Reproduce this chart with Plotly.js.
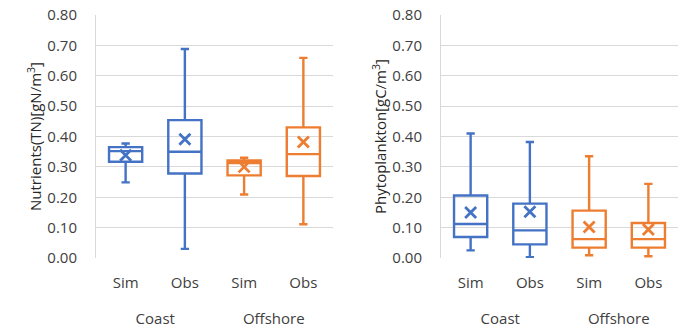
<!DOCTYPE html>
<html>
<head>
<meta charset="utf-8">
<script src="https://cdn.plot.ly/plotly-3.0.1.min.js"></script>
<style>html,body{margin:0;padding:0;background:#fff;}#chart{width:689px;height:329px;}</style>
</head>
<body>
<div id="chart"></div>
<script>
// Categories
const groups = ["Coast", "Offshore"];
const kinds = ["Sim", "Obs"];
const seriesColors = ["#4472C4", "#ED7D31"];

// Nutrients (TN) [gN/m3] — per group, per kind (Sim, Obs)
const tnLower  = [[0.249, 0.030], [0.209, 0.111]];
const tnQ1     = [[0.317, 0.278], [0.272, 0.270]];
const tnMedian = [[0.352, 0.350], [0.313, 0.342]];
const tnQ3     = [[0.365, 0.454], [0.321, 0.430]];
const tnUpper  = [[0.377, 0.688], [0.330, 0.659]];
const tnMean   = [[0.338, 0.391], [0.300, 0.382]];

// Phytoplankton [gC/m3]
const phLower  = [[0.025, 0.003], [0.009, 0.006]];
const phQ1     = [[0.069, 0.045], [0.034, 0.034]];
const phMedian = [[0.112, 0.091], [0.062, 0.062]];
const phQ3     = [[0.206, 0.179], [0.156, 0.115]];
const phUpper  = [[0.410, 0.382], [0.335, 0.244]];
const phMean   = [[0.150, 0.152], [0.102, 0.094]];

// Axis ticks
const yTickVals = [0, 0.1, 0.2, 0.3, 0.4, 0.5, 0.6, 0.7, 0.8];
const yTickText = ["0.00", "0.10", "0.20", "0.30", "0.40", "0.50", "0.60", "0.70", "0.80"];

const FONT = "Open Sans, Noto Sans, sans-serif";
const traces = [];

// slot index of (group, kind) on the x axis
const slot = (gi, ki) => gi * kinds.length + ki;
const kindSlots = [];
const kindLabels = [];
groups.forEach((g, gi) => kinds.forEach((k, ki) => { kindSlots.push(slot(gi, ki)); kindLabels.push(k); }));
const groupSlots = groups.map((g, gi) => slot(gi, 0) + (kinds.length - 1) / 2);

function addPanel(xa, ya, xg, lower, q1, med, q3, upper, mean) {
  groups.forEach((g, gi) => {
    const xs = kinds.map((k, ki) => slot(gi, ki));
    traces.push({
      type: "box", xaxis: xa, yaxis: ya, name: g, showlegend: false,
      x: xs,
      lowerfence: lower[gi], q1: q1[gi], median: med[gi], q3: q3[gi], upperfence: upper[gi],
      boxpoints: false,
      width: 0.56,
      whiskerwidth: 0.25,
      fillcolor: "rgba(255,255,255,0)",
      line: {color: seriesColors[gi], width: 2.4}
    });
    traces.push({
      type: "scatter", mode: "markers", xaxis: xa, yaxis: ya, showlegend: false,
      x: xs, y: mean[gi],
      marker: {symbol: "x-thin-open", size: 11, color: seriesColors[gi],
               line: {color: seriesColors[gi], width: 2.8}}
    });
  });
  // carrier trace for the group-label axis
  traces.push({type: "scatter", mode: "markers", xaxis: xg, yaxis: ya, showlegend: false,
    x: groupSlots, y: groupSlots.map(() => -1), marker: {opacity: 0}, hoverinfo: "skip"});
}
addPanel("x", "y", "x3", tnLower, tnQ1, tnMedian, tnQ3, tnUpper, tnMean);
addPanel("x2", "y2", "x4", phLower, phQ1, phMedian, phQ3, phUpper, phMean);

const xRange = [-0.5, kindSlots.length - 0.5];
const xCommon = {
  range: xRange, tickvals: kindSlots, ticktext: kindLabels,
  showgrid: false, zeroline: false, showline: false, ticks: "", fixedrange: true,
  ticklabelstandoff: 14,
  tickfont: {family: FONT, size: 15, color: "#404040"}
};
const xGroup = {
  range: xRange, tickvals: groupSlots, ticktext: groups,
  showgrid: false, zeroline: false, showline: false, ticks: "",
  ticklabelstandoff: 50,
  tickfont: {family: FONT, size: 15, color: "#404040"}
};
const yCommon = {
  range: [0, 0.8], tickvals: yTickVals, ticktext: yTickText,
  showgrid: true, gridcolor: "#D9D9D9", gridwidth: 1,
  zeroline: false, showline: true, linecolor: "#D9D9D9", linewidth: 1,
  ticks: "", ticklabelstandoff: 15,
  tickfont: {family: FONT, size: 15, color: "#404040"}
};

const layout = {
  width: 689, height: 329,
  margin: {l: 96, r: 11, t: 15, b: 71},
  paper_bgcolor: "#fff", plot_bgcolor: "#fff",
  boxmode: "overlay",
  xaxis: Object.assign({}, xCommon, {domain: [0, 0.4072], anchor: "y"}),
  xaxis2: Object.assign({}, xCommon, {domain: [0.5928, 1], anchor: "y2"}),
  xaxis3: Object.assign({}, xGroup, {overlaying: "x", anchor: "y", side: "bottom"}),
  xaxis4: Object.assign({}, xGroup, {overlaying: "x2", anchor: "y2", side: "bottom"}),
  yaxis: Object.assign({}, yCommon, {anchor: "x",
    title: {text: "Nutrients(TN)[gN/m<sup>3</sup>]", font: {family: FONT, size: 15, color: "#262626"}}}),
  yaxis2: Object.assign({}, yCommon, {anchor: "x2",
    title: {text: "Phytoplankton[gC/m<sup>3</sup>]", font: {family: FONT, size: 15, color: "#262626"}}})
};

Plotly.newPlot("chart", traces, layout, {displayModeBar: false, staticPlot: true});
</script>
</body>
</html>
